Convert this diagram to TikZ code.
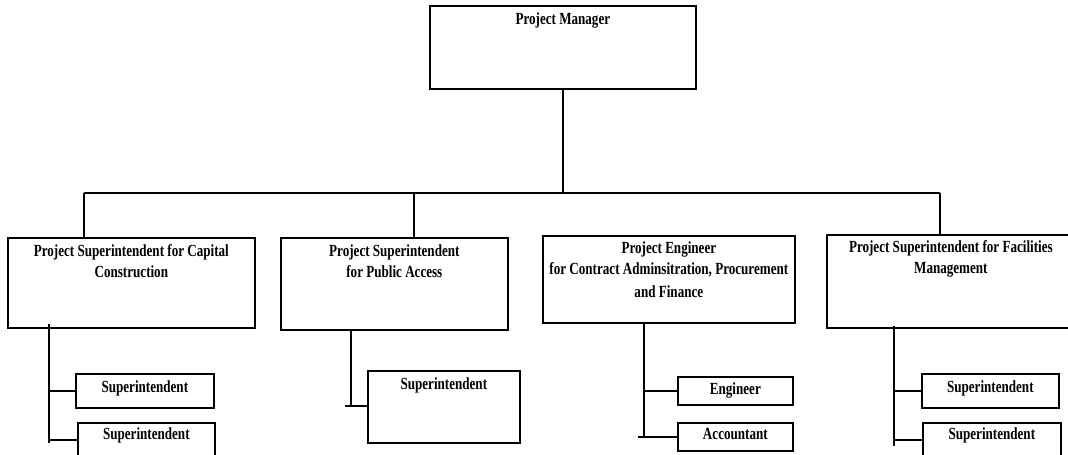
\documentclass[tikz,border=0pt]{standalone}
\usepackage{fontspec}
\setmainfont{Liberation Serif}[FakeStretch=0.77]
\usetikzlibrary{positioning}

\begin{document}
\begin{tikzpicture}[x=1pt, y=-1pt, line width=1.7pt,
    box/.style={draw, anchor=north west, inner sep=0pt},
    txt/.style={font=\bfseries\fontsize{17}{21}\selectfont, align=center, inner sep=0pt}]
  \useasboundingbox (0,0) rectangle (1068,455);

  % The manager at the top
  \node[box, minimum width=266pt, minimum height=83pt] (pm) at (429,5) {};
  \node[txt, below=7pt of pm.north] (pmt) {Project Manager};

  % The four boxes under the bus
  \node[box, minimum width=247pt, minimum height=90pt] (ps1) at (7,237) {};
  \node[txt, below=7pt of ps1.north] (ps1t) {Project Superintendent for Capital\\Construction};
  \node[box, minimum width=227pt, minimum height=92pt] (ps2) at (280,237) {};
  \node[txt, below=7pt of ps2.north] (ps2t) {Project Superintendent\\for Public Access};
  \node[box, minimum width=252pt, minimum height=87pt] (pe) at (542,235) {};
  \node[txt, below=6pt of pe.north] (pet) {Project Engineer\\for Contract Adminsitration, Procurement\\[2pt]and Finance};
  \node[box, minimum width=248pt, minimum height=93pt] (ps4) at (826,234) {};
  \node[txt, below=6pt of ps4.north] (ps4t) {Project Superintendent for Facilities\\Management};

  % Draw the bus and the drops
  \coordinate (bl) at (84,193);
  \coordinate (b2) at (414,193);
  \coordinate (br) at (940,193);
  \draw (bl) -- (br);
  \draw (pm.south) -- (pm.south |- bl);
  \draw (bl) -- (bl |- ps1.north);
  \draw (b2) -- (b2 |- ps2.north);
  \draw (br) -- (br |- ps4.north);

  % Staff under each box
  \node[box, minimum width=138pt, minimum height=34pt] (s1a) at (75,373) {};
  \node[txt, below=7pt of s1a.north] (s1at) {Superintendent};
  \node[box, minimum width=137pt, minimum height=34pt] (s1b) at (77,422) {};
  \node[txt, below=5pt of s1b.north] (s1bt) {Superintendent};

  \node[box, minimum width=152pt, minimum height=72pt] (s2) at (367,370) {};
  \node[txt, below=7pt of s2.north] (s2t) {Superintendent};

  \node[box, minimum width=115pt, minimum height=28pt] (eng) at (677,376) {};
  \node[txt, below=6pt of eng.north] (engt) {Engineer};
  \node[box, minimum width=115pt, minimum height=28pt] (acc) at (677,422) {};
  \node[txt, below=5pt of acc.north] (acct) {Accountant};

  \node[box, minimum width=137pt, minimum height=34pt] (s4a) at (921,373) {};
  \node[txt, below=7pt of s4a.north] (s4at) {Superintendent};
  \node[box, minimum width=138pt, minimum height=34pt] (s4b) at (922,422) {};
  \node[txt, below=5pt of s4b.north] (s4bt) {Superintendent};

  % Trunks and branches
  \coordinate (t1) at (49,443);
  \draw (t1 |- ps1.south) ++(0,-5) -- (t1);
  \draw (t1 |- s1a.west) -- (s1a.west);
  \draw (t1 |- s1b.west) -- (s1b.west);

  \coordinate (t2) at (351,406);
  \draw (t2 |- ps2.south) -- (t2);
  \draw ([xshift=-6pt]t2) -- ([xshift=2pt]t2 -| s2.west);

  \coordinate (t3) at (644,437);
  \draw (t3 |- pe.south) -- (t3);
  \draw (t3 |- eng.west) -- (eng.west);
  \draw ([xshift=-6pt]t3 |- acc.west) -- (acc.west);

  \coordinate (t4) at (894,446);
  \draw (t4 |- ps4.south) ++(0,-3) -- (t4);
  \draw (t4 |- s4a.west) -- (s4a.west);
  \draw (t4 |- s4b.west) -- (s4b.west);
\end{tikzpicture}
\end{document}
